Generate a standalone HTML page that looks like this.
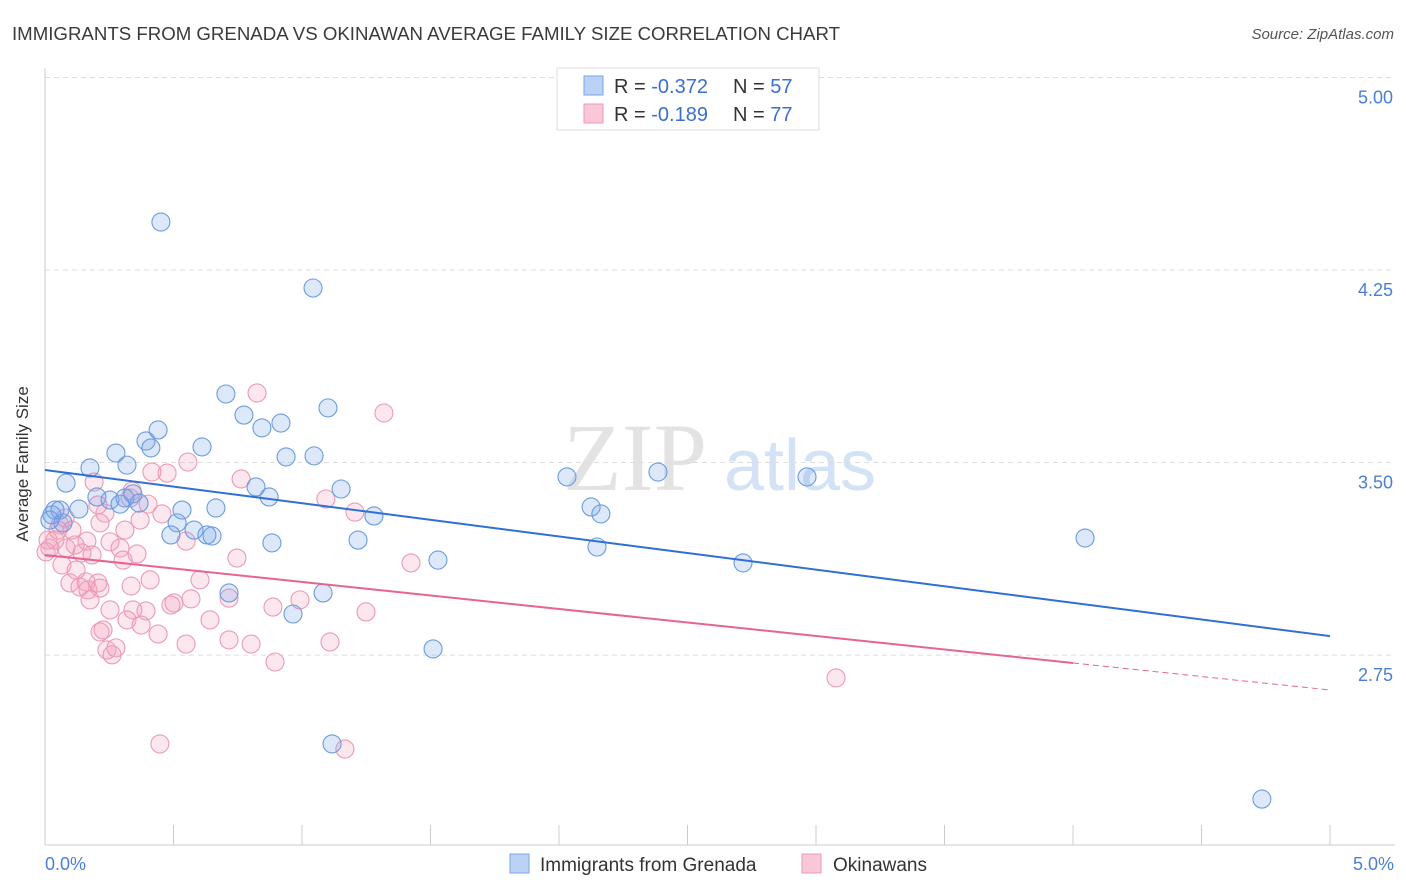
<!DOCTYPE html>
<html><head><meta charset="utf-8"><style>
body{margin:0;background:#fff;font-family:"Liberation Sans",sans-serif}
svg{display:block}
</style></head><body>
<svg width="1406" height="892" xmlns="http://www.w3.org/2000/svg">
<text x="12" y="40" font-size="18" fill="#3a3a3a" textLength="828" lengthAdjust="spacingAndGlyphs">IMMIGRANTS FROM GRENADA VS OKINAWAN AVERAGE FAMILY SIZE CORRELATION CHART</text>
<text x="1394" y="39" font-size="15" fill="#555" text-anchor="end" font-style="italic">Source: ZipAtlas.com</text>
<g>
<text x="635" y="490" font-size="96" font-family="Liberation Serif" fill="#e3e3e3" text-anchor="middle">ZIP</text>
<text x="800" y="490" font-size="72" fill="#d3e2f5" text-anchor="middle">atlas</text>
</g>
<g id="grid"></g>
<line x1="45" y1="68" x2="45" y2="845" stroke="#ccc"/>
<line x1="45" y1="845" x2="1395" y2="845" stroke="#ccc"/>
<text x="20" y="456" font-size="17" fill="#333" transform="rotate(-90 28 456)" text-anchor="middle">Average Family Size</text>
<text x="45" y="870" font-size="18" fill="#4a7fd8">0.0%</text>
<text x="1394" y="870" font-size="18" fill="#4a7fd8" text-anchor="end">5.0%</text>
<g id="pts"></g>
<g id="lines"></g>
<g>
<rect x="557" y="68" width="262" height="62" fill="#fff" stroke="#ddd"/>
<rect x="584" y="76" width="19" height="19" fill="#b9d2f5" stroke="#7aa5e6"/>
<rect x="584" y="104" width="19" height="19" fill="#f9c8d7" stroke="#eb9ab4"/>
<text x="614" y="93" font-size="20" fill="#333">R = <tspan fill="#3a6fd0">-0.372</tspan><tspan x="733">N = </tspan><tspan fill="#3a6fd0">57</tspan></text>
<text x="614" y="121" font-size="20" fill="#333">R = <tspan fill="#3a6fd0"> -0.189</tspan><tspan x="733">N = </tspan><tspan fill="#3a6fd0">77</tspan></text>
</g>
<g>
<rect x="510" y="854" width="19" height="19" fill="#b9d2f5" stroke="#7aa5e6"/>
<text x="540" y="871" font-size="19" fill="#333">Immigrants from Grenada</text>
<rect x="802" y="854" width="19" height="19" fill="#f9c8d7" stroke="#eb9ab4"/>
<text x="833" y="871" font-size="19" fill="#333">Okinawans</text>
</g>
</svg>
<script>
const yTicks=[5.00,4.25,3.50,2.75];
const yTickLabels=["5.00","4.25","3.50","2.75"];
const xTicks=[0,0.5,1,1.5,2,2.5,3,3.5,4,4.5,5];
const blueX=[0.451,1.043,0.704,0.774,1.101,0.844,0.918,0.440,0.393,0.412,0.611,0.276,1.047,0.938,0.175,0.319,0.082,0.821,1.152,0.202,0.311,0.342,0.253,0.872,0.132,0.366,0.533,0.665,0.292,0.039,0.027,0.070,0.514,0.580,0.630,0.490,0.650,1.280,2.125,2.163,2.031,2.385,2.965,0.883,1.218,1.529,2.148,2.716,4.047,0.716,1.082,0.965,1.510,1.117,4.735,0.058,0.019];
const blueY=[4.437,4.18,3.767,3.685,3.713,3.635,3.654,3.627,3.584,3.557,3.561,3.537,3.526,3.522,3.479,3.490,3.420,3.405,3.397,3.366,3.362,3.378,3.354,3.366,3.319,3.342,3.315,3.323,3.338,3.315,3.296,3.265,3.265,3.237,3.218,3.218,3.214,3.292,3.327,3.300,3.444,3.463,3.444,3.187,3.198,3.120,3.171,3.109,3.206,2.992,2.992,2.910,2.774,2.404,2.189,3.315,3.276];
const pinkX=[0.825,1.319,0.475,0.556,0.416,0.763,0.339,0.191,1.093,0.401,0.455,1.206,0.233,0.214,0.058,0.105,0.206,0.331,0.163,0.253,0.292,0.358,0.304,0.082,0.117,0.039,0.019,0.144,0.183,0.549,0.747,1.424,0.066,0.121,0.160,0.206,0.097,0.136,0.167,0.214,0.335,0.716,0.568,0.502,0.490,0.393,0.342,0.319,0.374,0.887,1.249,0.642,0.214,0.226,0.440,0.549,0.716,0.802,1.109,0.241,0.276,0.261,0.895,3.078,0.447,1.167,0.012,0.051,0.078,0.253,0.175,0.311,0.370,0.603,0.409,0.992,0.004];
const pinkY=[3.771,3.693,3.459,3.502,3.463,3.436,3.389,3.424,3.358,3.338,3.300,3.307,3.303,3.265,3.257,3.237,3.335,3.362,3.194,3.191,3.167,3.144,3.120,3.167,3.179,3.198,3.167,3.148,3.140,3.194,3.128,3.109,3.101,3.081,3.035,3.031,3.031,3.015,3.004,3.011,3.019,2.972,2.969,2.953,2.945,2.922,2.926,2.887,2.867,2.937,2.918,2.887,2.840,2.848,2.832,2.793,2.809,2.793,2.801,2.770,2.778,2.751,2.723,2.661,2.404,2.384,3.198,3.237,3.284,2.926,2.965,3.237,3.276,3.043,3.043,2.965,3.152];
const blueTrend=[3.471,2.824];
const pinkTrend=[3.140,2.614];
const pinkSolidEnd=4.0;
const X=v=>45+v/5*1285, Y=v=>77.5+(5-v)*256.7;
const NS="http://www.w3.org/2000/svg";
function mk(tag,attrs,parent){const e=document.createElementNS(NS,tag);for(const k in attrs)e.setAttribute(k,attrs[k]);parent.appendChild(e);return e;}
const grid=document.getElementById('grid');
yTicks.forEach((t,i)=>{
 const l=mk('line',{x1:45,x2:1395,y1:Y(t),y2:Y(t),stroke:'#ddd','stroke-dasharray':'5,4'},grid);
 
 
 const tx=mk('text',{x:1393,y:Y(t)+26,'font-size':18,fill:'#4a7fd8','text-anchor':'end'},grid);
 tx.textContent=yTickLabels[i];
 
 
});
xTicks.forEach(t=>{
 const l=mk('line',{x1:X(t),x2:X(t),y1:825,y2:845,stroke:'#ccc'},grid);
 
 
});
const pts=document.getElementById('pts');
pinkX.forEach((x,i)=>{
 const c=mk('circle',{cx:X(x),cy:Y(pinkY[i]),r:9,fill:'rgba(244,160,188,0.25)',stroke:'#eb9ab4','stroke-width':1.1},pts);
 
 
});
blueX.forEach((x,i)=>{
 const c=mk('circle',{cx:X(x),cy:Y(blueY[i]),r:9,fill:'rgba(120,165,235,0.25)',stroke:'#6b9be0','stroke-width':1.1},pts);
 
 
});
const lines=document.getElementById('lines');
const b=mk('line',{x1:X(0),y1:Y(blueTrend[0]),x2:X(5),y2:Y(blueTrend[1]),stroke:'#2f6fd6','stroke-width':2},lines);


const pm=pinkTrend[0]+(pinkTrend[1]-pinkTrend[0])*pinkSolidEnd/5;
const p=mk('line',{x1:X(0),y1:Y(pinkTrend[0]),x2:X(pinkSolidEnd),y2:Y(pm),stroke:'#e8648f','stroke-width':2},lines);


const pd=mk('line',{x1:X(pinkSolidEnd),y1:Y(pm),x2:X(5),y2:Y(pinkTrend[1]),stroke:'#e8648f','stroke-width':1,'stroke-dasharray':'6,4'},lines);


</script>
</body></html>
